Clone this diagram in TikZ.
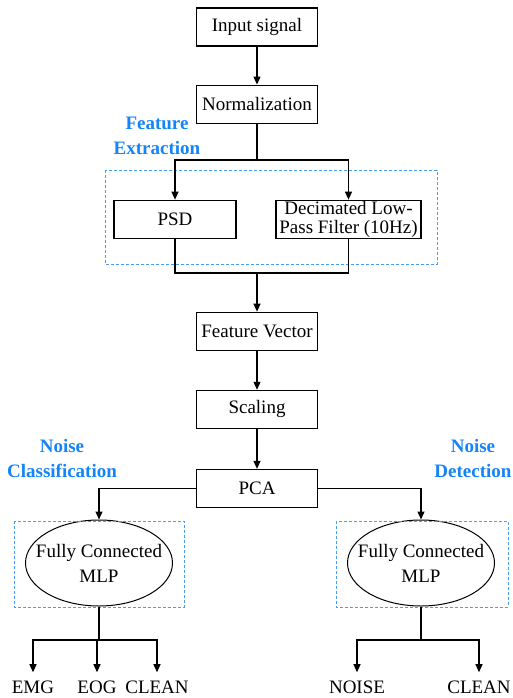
\documentclass[tikz,border=0pt]{standalone}
\usepackage{fontspec}
\setmainfont{Liberation Serif}
\usepackage{xcolor}
\usetikzlibrary{positioning,calc,arrows.meta,shapes.geometric}
\definecolor{grouptext}{RGB}{20,132,248}
\definecolor{groupline}{RGB}{70,155,245}
\tikzset{
  figfont/.style={font=\fontsize{19}{19}\selectfont},
  stagebox/.style={draw, line width=1.1pt, align=center, minimum width=121pt, minimum height=38pt, inner sep=2pt},
  mlpnode/.style={draw, ellipse, line width=1pt, align=center, minimum width=147pt, minimum height=86pt, inner xsep=-17pt, inner ysep=0pt, font=\fontsize{19}{25}\selectfont},
  groupframe/.style={draw=groupline, dash pattern=on 3pt off 2pt, line width=1pt},
  grouplabel/.style={text=grouptext, font=\fontsize{19}{25}\selectfont\bfseries, align=center},
  outlabel/.style={anchor=base, inner xsep=0pt, inner ysep=8pt},
  flowline/.style={line width=1.2pt},
  flowarrow/.style={flowline, -{Triangle[length=8pt, width=7pt]}},
}

\begin{document}
\begin{tikzpicture}[figfont, x=1pt, y=-1pt]
  \useasboundingbox (0,0) rectangle (513,698);

  % Main column
  \node[stagebox] (input) at (257,27) {Input signal};
  \node[stagebox, below=38pt of input] (norm) {Normalization};

  % Feature extraction stage
  \node[stagebox, below=76pt of norm, xshift=-82pt, minimum width=122pt] (psd) {PSD};
  \node[stagebox, below=76pt of norm, xshift=91.5pt, minimum width=145pt, inner sep=1pt] (lpf)
  {Decimated Low-\\Pass Filter (10Hz)};
  \draw[groupframe] (105,170) rectangle (437,264);
  \node[grouplabel] (featlabel) at (157,136) {Feature\\Extraction};

  \node[stagebox, below=188pt of norm] (feat) {Feature Vector};
  \node[stagebox, below=39pt of feat] (scale) {Scaling};
  \node[stagebox, below=40pt of scale] (pca) {PCA};

  % Two classifiers
  \node[mlpnode] (mlpcls) at (99,563) {Fully Connected\\MLP};
  \node[mlpnode] (mlpdet) at (421,563) {Fully Connected\\MLP};
  \draw[groupframe] (14,521) rectangle (184,607);
  \draw[groupframe] (336,521) rectangle (508,607);
  \node[grouplabel] (clslabel) at (62,458) {Noise\\Classification};
  \node[grouplabel] (detlabel) at (473,458) {Noise\\Detection};

  % Outputs
  \node[outlabel] (emg) at (33,693) {EMG};
  \node[outlabel] (eog) at (97,693) {EOG};
  \node[outlabel] (clsclean) at (157,693) {CLEAN};
  \node[outlabel] (noise) at (357,693) {NOISE};
  \node[outlabel] (detclean) at (479,693) {CLEAN};

  % Connectors
  \coordinate (split) at (257,160);
  \coordinate (merge) at (257,273);
  \coordinate (clsfork) at (99,640);
  \coordinate (detfork) at (421,640);

  \draw[flowarrow] (input) -- (norm);
  \draw[flowline] (norm) -- (split);
  \draw[flowarrow] (split) -| (psd.north);
  \draw[flowarrow] (split) -| (lpf.north);
  \draw[flowline] (psd.south) |- (merge);
  \draw[flowline] (lpf.south) |- (merge);
  \draw[flowarrow] (merge) -- (feat.north);
  \draw[flowarrow] (feat) -- (scale);
  \draw[flowarrow] (scale) -- (pca);
  \draw[flowarrow] (pca.west) -| (mlpcls.north);
  \draw[flowarrow] (pca.east) -| (mlpdet.north);

  \draw[flowline] (mlpcls.south) -- (clsfork);
  \draw[flowarrow] (clsfork) -| (emg.north);
  \draw[flowarrow] (clsfork) -| (eog.north);
  \draw[flowarrow] (clsfork) -| (clsclean.north);
  \draw[flowline] (mlpdet.south) -- (detfork);
  \draw[flowarrow] (detfork) -| (noise.north);
  \draw[flowarrow] (detfork) -| (detclean.north);
\end{tikzpicture}
\end{document}
